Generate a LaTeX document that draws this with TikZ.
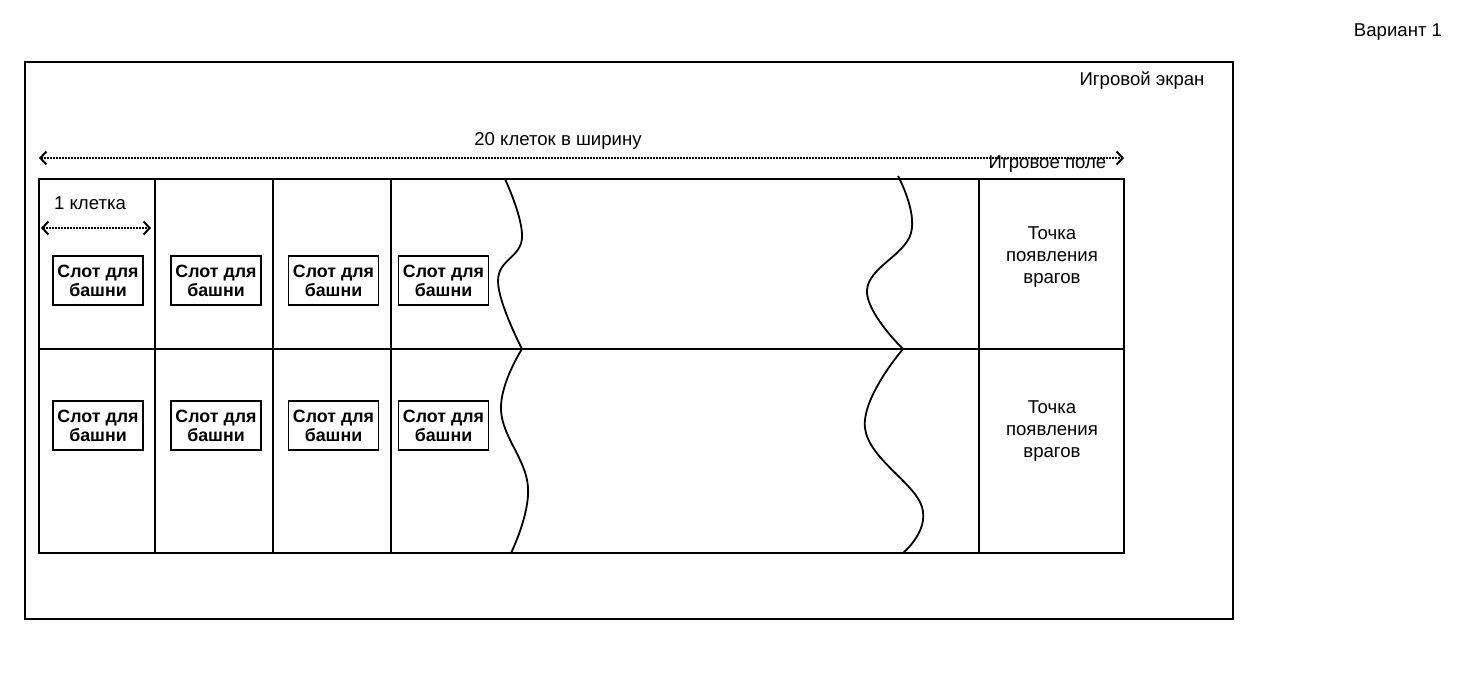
\documentclass[tikz,border=0pt]{standalone}
\usepackage{fontspec}
\setmainfont{Liberation Sans}
\usetikzlibrary{arrows.meta,positioning}
\tikzset{
	slotbox/.style={draw, line width=0.8pt, minimum width=45pt, minimum height=24.5pt, inner sep=0pt, align=center, font=\bfseries\fontsize{8.9}{9.4}\selectfont},
	lbl/.style={inner sep=0pt, align=center, font=\fontsize{9.3}{11}\selectfont},
	dimline/.style={line width=0.6pt, dash pattern=on 0.6pt off 0.9pt, {Straight Barb[length=3pt,width=6.5pt,line width=1pt]}-{Straight Barb[length=3pt,width=6.5pt,line width=1pt]}},
	breakline/.style={line width=0.9pt},
}
\begin{document}
\begin{tikzpicture}[x=0.5pt, y=-0.5pt, line width=0.75pt]
		\useasboundingbox (0,0) rectangle (1480,700);
		% игровой экран
		\draw (25,62) rectangle (1233,619);
		\node[lbl] (screen) at (1142,81) {Игровой экран};
		\node[lbl] (variant) at (1398,32) {Вариант 1};
		% игровое поле
		\draw (39,179) rectangle (1124,553);
		\draw (39,349) -- (1124,349);
		\foreach \x in {155,273,391,979}
			\draw (\x,179) -- (\x,553);
		% разрывы
		\draw[breakline] plot[smooth, tension=0.7] coordinates {(505,179) (522,238) (498,281) (522,349)};
		\draw[breakline] plot[smooth, tension=0.7] coordinates {(522,349) (501,410) (528,487) (511,553)};
		\draw[breakline] plot[smooth, tension=0.7] coordinates {(898,176) (911,233) (867,290) (903,349)};
		\draw[breakline] plot[smooth, tension=0.7] coordinates {(903,349) (865,428) (922,507) (903,553)};
		% размеры
		\coordinate (wl) at (39,158);
		\coordinate (wr) at (1124,158);
		\draw[dimline] (wl) -- (wr);
		\node[lbl] (width) at (558,141) {20 клеток в ширину};
		\node[lbl, anchor=east] (field) at (1107,164) {Игровое поле};
		\coordinate (cl) at (41,228);
		\coordinate (cr) at (151,228);
		\draw[dimline] (cl) -- (cr);
		\node[lbl] (cell) at (90,203) {1 клетка};
		% слоты
		\foreach \x [count=\i] in {98,216,333.5,443.5} {
			\node[slotbox] (s1\i) at (\x,280.5) {Слот для\\башни};
			\node[slotbox] (s2\i) at (\x,425.5) {Слот для\\башни};
		}
		% точки появления
		\node[lbl] (spawn1) at (1052,257) {Точка\\появления\\врагов};
		\node[lbl] (spawn2) at (1052,431) {Точка\\появления\\врагов};
	\end{tikzpicture}
\end{document}
